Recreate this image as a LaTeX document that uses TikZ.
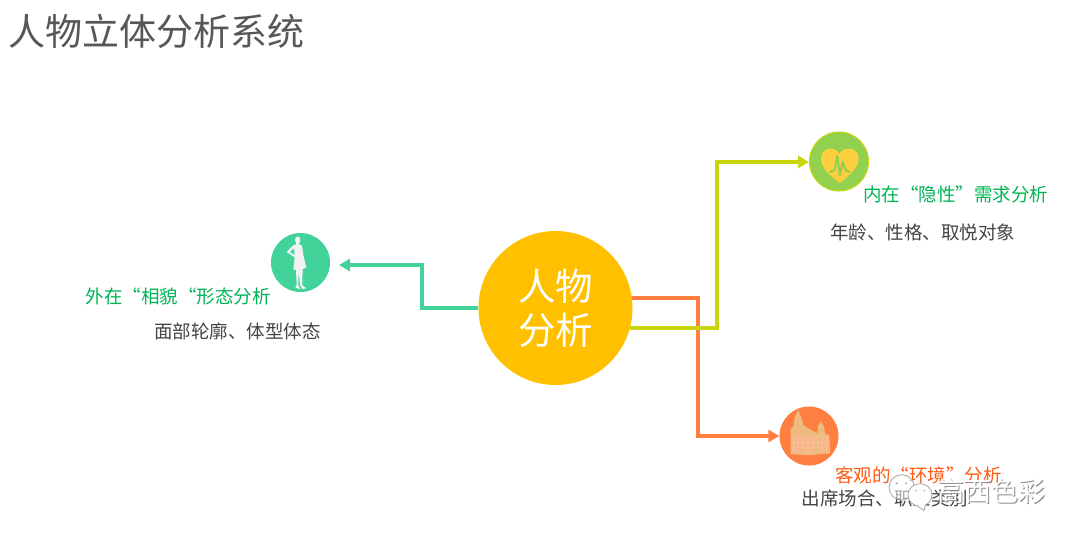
\documentclass[tikz,border=0pt]{standalone}
\usepackage{fontspec}
\setmainfont{Noto Sans CJK SC}
\usetikzlibrary{arrows.meta}
\definecolor{cgreen}{HTML}{41D39A}
\definecolor{cyellow}{HTML}{C9D60E}
\definecolor{corange}{HTML}{FF7F41}
\definecolor{cgold}{HTML}{FFC000}
\definecolor{clime}{HTML}{92D050}
\definecolor{ctitle}{HTML}{00B455}
\definecolor{ctext}{HTML}{444444}
\definecolor{cred}{HTML}{FF5A14}
\definecolor{cbuild}{HTML}{EDBB80}
\tikzset{
 link/.style={line width=4pt,-{Triangle[length=11pt,width=12pt]}},
 badge/.style={circle,inner sep=0pt,minimum size=59pt},
 head/.style={inner sep=0pt,text=ctitle,font=\fontsize{18.5pt}{20pt}\selectfont},
 body/.style={inner sep=0pt,text=ctext,font=\fontsize{18.5pt}{20pt}\selectfont},
 wm/.style={inner sep=0pt,font=\fontsize{27pt}{30pt}\selectfont},
 bubble/.style={draw=black!35,line width=0.8pt}
}
\begin{document}
\begin{tikzpicture}[x=1pt,y=-1pt]
\useasboundingbox (0,0) rectangle (1080,541);
\fill[white] (0,0) rectangle (1080,541);
\node[inner sep=0pt,text=ctext!90,font=\fontsize{37pt}{40pt}\selectfont] (title) at (156.5,31) {人物立体分析系统};

\node[circle,inner sep=0pt,minimum size=154pt,fill=cgold,text=white,align=center,font=\fontsize{37.5pt}{44pt}\selectfont] (main) at (555.5,308) {人物\\分析};
\node[badge,fill=cgreen] (person) at (300.5,262.5) {};
\node[badge,fill=clime,draw=cyellow,line width=1pt] (heart) at (839,161.5) {};
\node[badge,fill=corange] (build) at (809,436) {};

\coordinate (gturn) at (422,308);
\coordinate (gend) at (339,265);
\coordinate (oturn) at (698,298);
\coordinate (yturn) at (717,328);
\coordinate (yend) at (809,162);

\draw[link,color=cgreen] (main.180) -- (gturn) |- (gend);
\draw[link,color=corange] (main.7.5 |- oturn) -- (oturn) |- (build.west);
\draw[link,color=cyellow] (main.-15 |- yturn) -- (yturn) |- (yend);

% heart icon
\begin{scope}[shift={(780,120)},scale=1/3]
\fill[yellow!55!orange!75] (179,190) .. controls (150,165) and (123,145) .. (123,115) .. controls (123,95) and (138,86) .. (152,86) .. controls (165,86) and (175,93) .. (179,102) .. controls (184,93) and (194,86) .. (207,86) .. controls (222,86) and (236,97) .. (236,115) .. controls (236,145) and (208,165) .. (179,190) -- cycle;
\draw[clime,line width=2pt,line join=round] (148,157) -- (164,150) -- (172,108) -- (180,165) -- (188,125) -- (196,150) -- (210,157);
\end{scope}

% person icon
\begin{scope}[shift={(270,230)},scale=1/3]
\fill[white!95!black] (83,30) ellipse (8 and 11);
\fill[white!95!black] (78,38) -- (88,38) -- (88,44) -- (96,47) -- (100,75) -- (109,113) -- (98,117) -- (97,150) -- (97,166) -- (109,175) -- (97,177) -- (90,165) -- (88,150) -- (87,120) -- (85,150) -- (85,166) -- (91,178) -- (76,173) -- (80,165) -- (78,120) -- (70,118) -- (74,82) -- (50,66) -- (70,46) -- (78,43) -- cycle;
\fill[cgreen] (72,55) -- (60,66) -- (74,74) -- cycle;
\end{scope}

% building icon
\begin{scope}[shift={(780,405)},scale=1/3]
\fill[cbuild] (32,148) -- (32,72) -- (40,65) -- (45,35) -- (55,15) -- (63,35) -- (70,60) -- (85,70) -- (112,85) -- (115,60) -- (123,48) -- (132,65) -- (135,85) -- (148,92) -- (150,145) -- (90,150) -- cycle;
\foreach \x in {42,56,70,84,98,112,126,140}{\draw[corange!55,line width=1.2pt] (\x,90) -- (\x,143);}
\foreach \y in {100,114,128}{\draw[corange!55,line width=1.2pt] (34,\y) -- (148,\y-3);}
\end{scope}

\node[head] (hneed) at (955.5,194) {内在“隐性”需求分析};
\node[body] (bneed) at (922.5,232) {年龄、性格、取悦对象};
\node[head] (hlook) at (178,296) {外在“相貌“形态分析};
\node[body] (blook) at (237.5,331) {面部轮廓、体型体态};
\node[head,text=cred] (henv) at (918.5,475) {客观的“环境”分析};
\node[body] (benv) at (885,498) {出席场合、职业类别};

% watermark
\begin{scope}[shift={(770,400)},scale=1/3]
\draw[bubble,fill=white,fill opacity=0.55] (395,262) circle (38);
\fill[black!40] (380,250) circle (3) (408,250) circle (3);
\draw[bubble,fill=white] (450,285) ellipse (36 and 34);
\fill[white] (440,312) -- (462,335) -- (466,315) -- cycle;
\draw[black!35,line width=0.8pt] (440,316) -- (462,332) -- (466,317);
\fill[black!40] (438,272) circle (2.5) (463,272) circle (2.5);
\end{scope}
\node[wm,text=black!45] (wmshadow) at (992,492.5) {高西色彩};
\node[wm,text=white] (wmtext) at (991,491.5) {高西色彩};
\end{tikzpicture}
\end{document}
